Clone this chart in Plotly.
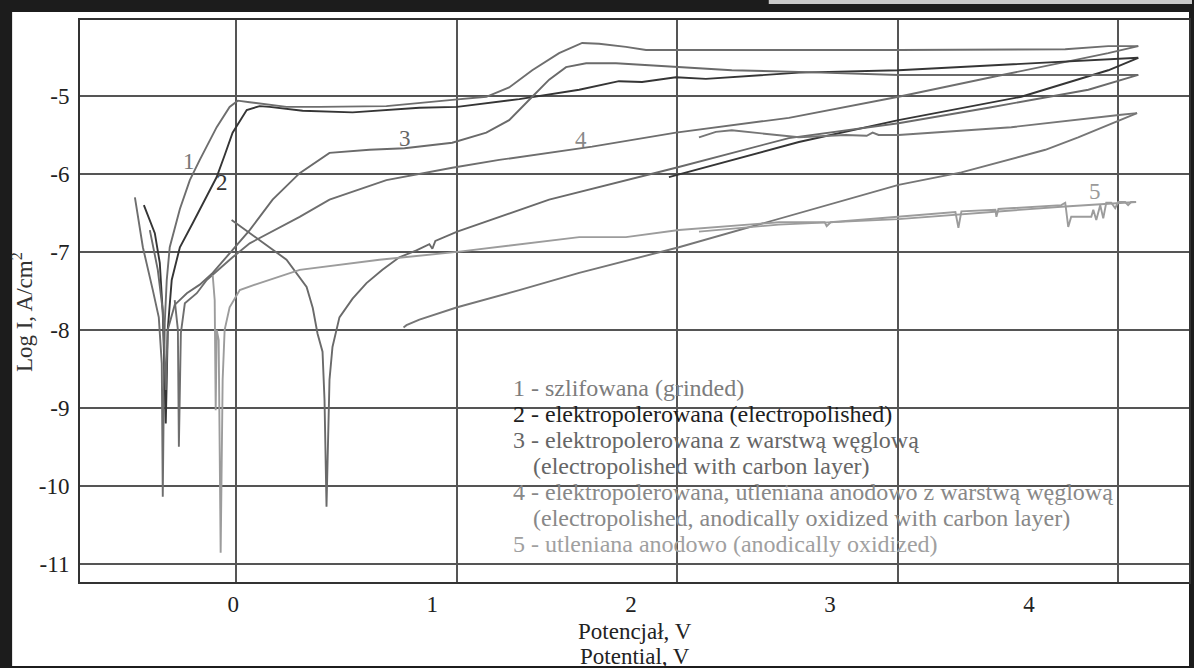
import plotly.graph_objects as go

# ---------------- data (potential E [V], log I [A/cm2]) ----------------
# Curve 1 - szlifowana (grinded)
E1_fwd = [-0.494, -0.454, -0.404, -0.374, -0.359, -0.354, -0.349, -0.344, -0.334, -0.319, -0.268, -0.218,
          -0.168, -0.083, -0.018, 0.023, 0.083, 0.268, 0.434, 0.770, 1.101, 1.272, 1.387, 1.503, 1.638,
          1.754, 1.839, 1.974, 2.075, 2.225, 2.843, 3.344, 4.182, 4.398, 4.549]
I1_fwd = [-6.30, -6.94, -7.49, -7.84, -8.43, -10.14, -8.90, -7.91, -7.36, -6.94, -6.45, -6.08,
          -5.82, -5.40, -5.14, -5.06, -5.08, -5.14, -5.14, -5.13, -5.05, -5.01, -4.89, -4.67, -4.45,
          -4.32, -4.33, -4.37, -4.41, -4.41, -4.41, -4.41, -4.40, -4.36, -4.36]
E1_rev = [4.549, 4.398, 3.846, 3.344, 2.793, 2.225, 1.804, 1.337, 1.101, 0.770, 0.484, 0.334, 0.083,
          -0.003, -0.133, -0.183, -0.243, -0.263, -0.273, -0.278, -0.294]
I1_rev = [-4.36, -4.45, -4.74, -5.01, -5.28, -5.47, -5.65, -5.82, -5.92, -6.08, -6.33, -6.55, -6.89,
          -7.07, -7.36, -7.53, -7.66, -8.04, -9.50, -8.00, -7.62]

# Curve 2 - elektropolerowana (electropolished)
E2_fwd = [-0.449, -0.394, -0.369, -0.354, -0.344, -0.339, -0.334, -0.329, -0.309, -0.268, -0.203, -0.118,
          -0.083, -0.043, -0.003, 0.068, 0.133, 0.183, 0.349, 0.600, 0.936, 1.126, 1.272, 1.438, 1.739,
          1.939, 2.055, 2.225, 2.376, 2.843, 3.344, 4.182, 4.549]
I2_fwd = [-6.40, -6.76, -7.14, -7.78, -8.64, -9.20, -8.64, -8.00, -7.36, -6.94, -6.63, -6.21,
          -6.04, -5.76, -5.47, -5.18, -5.13, -5.14, -5.19, -5.21, -5.15, -5.14, -5.09, -5.04, -4.92,
          -4.81, -4.82, -4.76, -4.78, -4.70, -4.67, -4.56, -4.51]
E2_rev = [4.549, 4.398, 3.961, 3.344, 2.843, 2.190]
I2_rev = [-4.51, -4.67, -5.01, -5.31, -5.59, -6.04]

# Curve 3 - elektropolerowana z warstwa weglowa
E3_fwd = [-0.419, -0.379, -0.354, -0.344, -0.339, -0.329, -0.294, -0.233, -0.168, -0.103, -0.003, 0.083,
          0.198, 0.334, 0.484, 0.685, 0.861, 1.101, 1.272, 1.387, 1.503, 1.588, 1.673, 1.774, 1.924,
          2.225, 2.506, 2.843, 3.344, 4.549]
I3_fwd = [-6.72, -7.23, -7.75, -8.39, -8.77, -8.00, -7.68, -7.53, -7.42, -7.27, -6.98, -6.72,
          -6.33, -5.99, -5.73, -5.69, -5.67, -5.60, -5.47, -5.31, -5.01, -4.79, -4.63, -4.58, -4.58,
          -4.63, -4.67, -4.69, -4.73, -4.73]
E3_rev = [4.549, 4.298, 3.796, 3.344, 2.793, 2.225, 1.588, 1.126, 1.016, 1.001, 0.986, 0.921, 0.835,
          0.750, 0.670, 0.600, 0.534, 0.499, 0.484, 0.469, 0.459, 0.449, 0.424, 0.400, 0.369, 0.268,
          0.133, -0.008]
I3_rev = [-4.73, -4.92, -5.15, -5.35, -5.54, -5.92, -6.33, -6.74, -6.86, -6.96, -6.90, -6.98, -7.07,
          -7.23, -7.40, -7.60, -7.84, -8.22, -8.64, -10.27, -8.90, -8.28, -8.05, -7.72, -7.45, -7.10,
          -6.85, -6.59]

# Curve 4 - elektropolerowana, utleniana anodowo z warstwa weglowa
E4_fwd = [0.856, 0.871, 0.936, 1.126, 1.438, 1.739, 2.240, 2.843, 3.344, 3.660, 4.082, 4.247, 4.543]
I4_fwd = [-7.97, -7.94, -7.87, -7.71, -7.49, -7.27, -6.94, -6.50, -6.14, -5.98, -5.69, -5.53, -5.22]
E4_rev = [4.543, 4.463, 3.911, 3.344, 3.244, 3.214, 3.184, 3.078, 2.843, 2.506, 2.426, 2.341]
I4_rev = [-5.22, -5.24, -5.40, -5.50, -5.50, -5.47, -5.51, -5.50, -5.53, -5.44, -5.46, -5.53]

# Curve 5 - utleniana anodowo (anodically oxidized)
E5_fwd = [-0.103, -0.093, -0.088, -0.083, -0.073, -0.063, -0.053, -0.043, -0.018, 0.033, 0.133, 0.334,
          0.735, 1.126, 1.739, 1.974, 2.240, 2.742, 2.973, 2.983, 3.003, 3.344, 3.630, 3.645, 3.660,
          3.831, 3.836, 3.846, 4.162, 4.182, 4.197, 4.212, 4.313, 4.323, 4.338, 4.358, 4.373, 4.388,
          4.413, 4.433, 4.448, 4.483, 4.498, 4.513, 4.538]
I5_fwd = [-7.30, -7.62, -9.03, -8.00, -8.13, -10.86, -8.64, -8.00, -7.71, -7.49, -7.40, -7.23,
          -7.10, -7.00, -6.81, -6.81, -6.72, -6.62, -6.62, -6.67, -6.62, -6.55, -6.49, -6.69, -6.48,
          -6.46, -6.55, -6.45, -6.40, -6.37, -6.68, -6.55, -6.55, -6.46, -6.59, -6.40, -6.57, -6.37,
          -6.37, -6.44, -6.36, -6.36, -6.40, -6.36, -6.36]
E5_rev = [4.538, 4.162, 3.344, 2.742, 2.341]
I5_rev = [-6.36, -6.42, -6.58, -6.65, -6.74]

# axis ticks
x_ticks = [0, 1, 2, 3, 4]
y_ticks = [-11, -10, -9, -8, -7, -6, -5]

legend_lines = [
    "1 - szlifowana (grinded)",
    "2 - elektropolerowana (electropolished)",
    "3 - elektropolerowana z warstwą węglową",
    "(electropolished with carbon layer)",
    "4 - elektropolerowana, utleniana anodowo z warstwą węglową",
    "(electropolished, anodically oxidized with carbon layer)",
    "5 - utleniana anodowo (anodically oxidized)",
]

# ---------------- styling ----------------
FONT = "Liberation Serif"
C1, C2, C3, C4, C5 = "#6e6e6e", "#353535", "#6a6a6a", "#767676", "#9c9c9c"
GRID = "#555555"

series = [
    (E1_fwd, I1_fwd, C1), (E1_rev, I1_rev, C1),
    (E2_fwd, I2_fwd, C2), (E2_rev, I2_rev, C2),
    (E3_fwd, I3_fwd, C3), (E3_rev, I3_rev, C3),
    (E4_fwd, I4_fwd, C4), (E4_rev, I4_rev, C4),
    (E5_fwd, I5_fwd, C5), (E5_rev, I5_rev, C5),
]

fig = go.Figure()
# invisible trace that activates the grid axis (x2)
fig.add_trace(go.Scatter(x=[0], y=[-20], xaxis="x2", yaxis="y", mode="markers",
                         marker=dict(opacity=0), showlegend=False, hoverinfo="skip"))
for xs, ys, col in series:
    fig.add_trace(go.Scatter(x=xs, y=ys, mode="lines", line=dict(color=col, width=1.9),
                             showlegend=False, hoverinfo="skip"))

# ---------------- frame decoration ----------------
W, H = 1194, 668
ML, MR, MT, MB = 80, 3, 20, 86
PW, PH = W - ML - MR, H - MT - MB


def px(xp):
    return (xp - ML) / PW


def py(yp):
    return (H - MB - yp) / PH


shapes = [
    dict(type="rect", xref="paper", yref="paper", x0=px(12), x1=px(1191), y0=py(666), y1=py(12),
         fillcolor="white", line=dict(width=0), layer="below"),
    dict(type="rect", xref="paper", yref="paper", x0=px(770), x1=px(1194), y0=py(4), y1=py(0),
         fillcolor="#c9c9c9", line=dict(width=0), layer="below"),
]

annotations = []
leg_colors = ["#7c7c7c", "#1e1e1e", "#666666", "#666666", "#888888", "#888888", "#a0a0a0"]
leg_x = [1.397, 1.397, 1.397, 1.495, 1.397, 1.495, 1.397]
leg_y = [-8.746, -9.080, -9.413, -9.747, -10.080, -10.414, -10.747]
for txt, col, lx, ly in zip(legend_lines, leg_colors, leg_x, leg_y):
    annotations.append(dict(x=lx, y=ly, xref="x", yref="y", text=txt, showarrow=False,
                            xanchor="left", yanchor="middle",
                            font=dict(family=FONT, size=24, color=col)))

curve_labels = [("1", -0.223, -5.834, "#777777"), ("2", -0.058, -6.116, "#333333"),
                ("3", 0.861, -5.539, "#666666"), ("4", 1.749, -5.564, "#888888"),
                ("5", 4.330, -6.230, "#9a9a9a")]
for t, lx, ly, col in curve_labels:
    annotations.append(dict(x=lx, y=ly, xref="x", yref="y", text=t, showarrow=False,
                            xanchor="center", yanchor="middle",
                            font=dict(family=FONT, size=23, color=col)))

annotations += [
    dict(x=px(636), y=py(631), xref="paper", yref="paper", text="Potencjał, V", showarrow=False,
         xanchor="center", yanchor="middle", font=dict(family=FONT, size=23, color="#222")),
    dict(x=px(636), y=py(656), xref="paper", yref="paper", text="Potential, V", showarrow=False,
         xanchor="center", yanchor="middle", font=dict(family=FONT, size=23, color="#222")),
    dict(x=px(22), y=py(312), xref="paper", yref="paper", text="Log I, A/cm<sup>2</sup>",
         showarrow=False, textangle=-90, xanchor="center", yanchor="middle",
         font=dict(family=FONT, size=23, color="#333")),
]

fig.update_layout(
    width=W, height=H,
    margin=dict(l=ML, r=MR, t=MT, b=MB, pad=0),
    paper_bgcolor="#1c1c1c", plot_bgcolor="white",
    showlegend=False,
    shapes=shapes, annotations=annotations,
    xaxis=dict(range=[-0.770, 4.804], tickvals=x_ticks, ticktext=[str(v) for v in x_ticks],
               showgrid=False, zeroline=False, showline=True, mirror=True,
               linecolor="#333", linewidth=2, ticks="", ticklabelstandoff=0,
               tickfont=dict(family=FONT, size=23, color="#222")),
    xaxis2=dict(overlaying="x", side="bottom", range=[-0.7097, 4.3225], tickvals=x_ticks,
                showticklabels=False, showgrid=True, gridcolor=GRID, gridwidth=1.5,
                zeroline=False, showline=False, ticks=""),
    yaxis=dict(range=[-11.235, -4.025], tickvals=y_ticks, ticktext=[str(v) for v in y_ticks],
               showgrid=True, gridcolor=GRID, gridwidth=1.5, zeroline=False,
               showline=True, mirror=True, linecolor="#333", linewidth=2, ticks="",
               ticklabelstandoff=4, tickfont=dict(family=FONT, size=23, color="#222")),
)

fig.write_html("out.html", config={"displayModeBar": False},
               post_script="document.body.style.margin='0px';")
